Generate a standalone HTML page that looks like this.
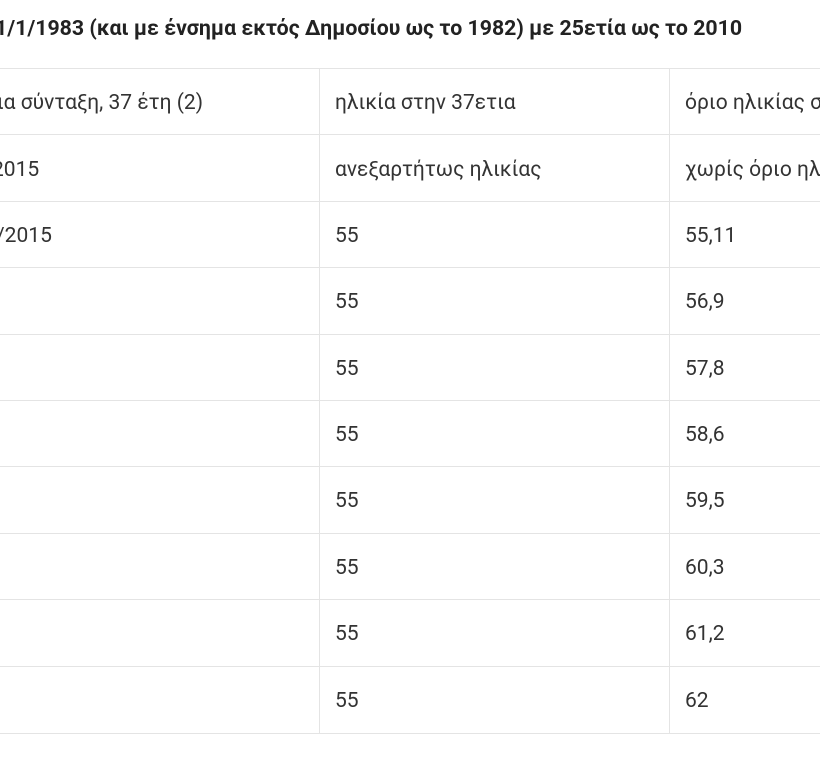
<!DOCTYPE html>
<html><head><meta charset="utf-8"><style>
body{margin:0;width:820px;height:759px;background:#fff;overflow:hidden;position:relative;font-family:"Roboto","Liberation Sans","DejaVu Sans",sans-serif;}
.t{position:absolute;white-space:nowrap;font-size:21px;color:#333;line-height:24px;}
.h{position:absolute;left:0;width:820px;height:1px;background:#e4e4e4;}
.v{position:absolute;top:68px;height:665px;width:1px;background:#e4e4e4;}
</style></head><body>
<div class="t" style="left:-5px;top:17px;font-weight:bold;color:#222;font-size:21.3px;">1/1/1983 (και με ένσημα εκτός Δημοσίου ως το 1982) με 25ετία ως το 2010</div>
<div class="h" style="top:68px"></div>
<div class="h" style="top:134px"></div>
<div class="h" style="top:201px"></div>
<div class="h" style="top:267px"></div>
<div class="h" style="top:334px"></div>
<div class="h" style="top:400px"></div>
<div class="h" style="top:466px"></div>
<div class="h" style="top:533px"></div>
<div class="h" style="top:599px"></div>
<div class="h" style="top:666px"></div>
<div class="h" style="top:733px"></div>
<div class="v" style="left:319px"></div>
<div class="v" style="left:669px"></div>

<div class="t" style="left:-3px;top:91px">ια σύνταξη, 37 έτη (2)</div>
<div class="t" style="left:335px;top:91px">ηλικία στην 37ετια</div>
<div class="t" style="left:685px;top:91px">όριο ηλικίας σε</div>

<div class="t" style="left:-8px;top:158px">2015</div>
<div class="t" style="left:335px;top:158px">ανεξαρτήτως ηλικίας</div>
<div class="t" style="left:685px;top:158px">χωρίς όριο ηλι</div>

<div class="t" style="left:-4px;top:224px">/2015</div>
<div class="t" style="left:335px;top:224px">55</div>
<div class="t" style="left:685px;top:224px">55,11</div>

<div class="t" style="left:335px;top:290px">55</div>
<div class="t" style="left:685px;top:290px">56,9</div>
<div class="t" style="left:335px;top:357px">55</div>
<div class="t" style="left:685px;top:357px">57,8</div>
<div class="t" style="left:335px;top:423px">55</div>
<div class="t" style="left:685px;top:423px">58,6</div>
<div class="t" style="left:335px;top:489px">55</div>
<div class="t" style="left:685px;top:489px">59,5</div>
<div class="t" style="left:335px;top:556px">55</div>
<div class="t" style="left:685px;top:556px">60,3</div>
<div class="t" style="left:335px;top:622px">55</div>
<div class="t" style="left:685px;top:622px">61,2</div>
<div class="t" style="left:335px;top:689px">55</div>
<div class="t" style="left:685px;top:689px">62</div>
</body></html>
